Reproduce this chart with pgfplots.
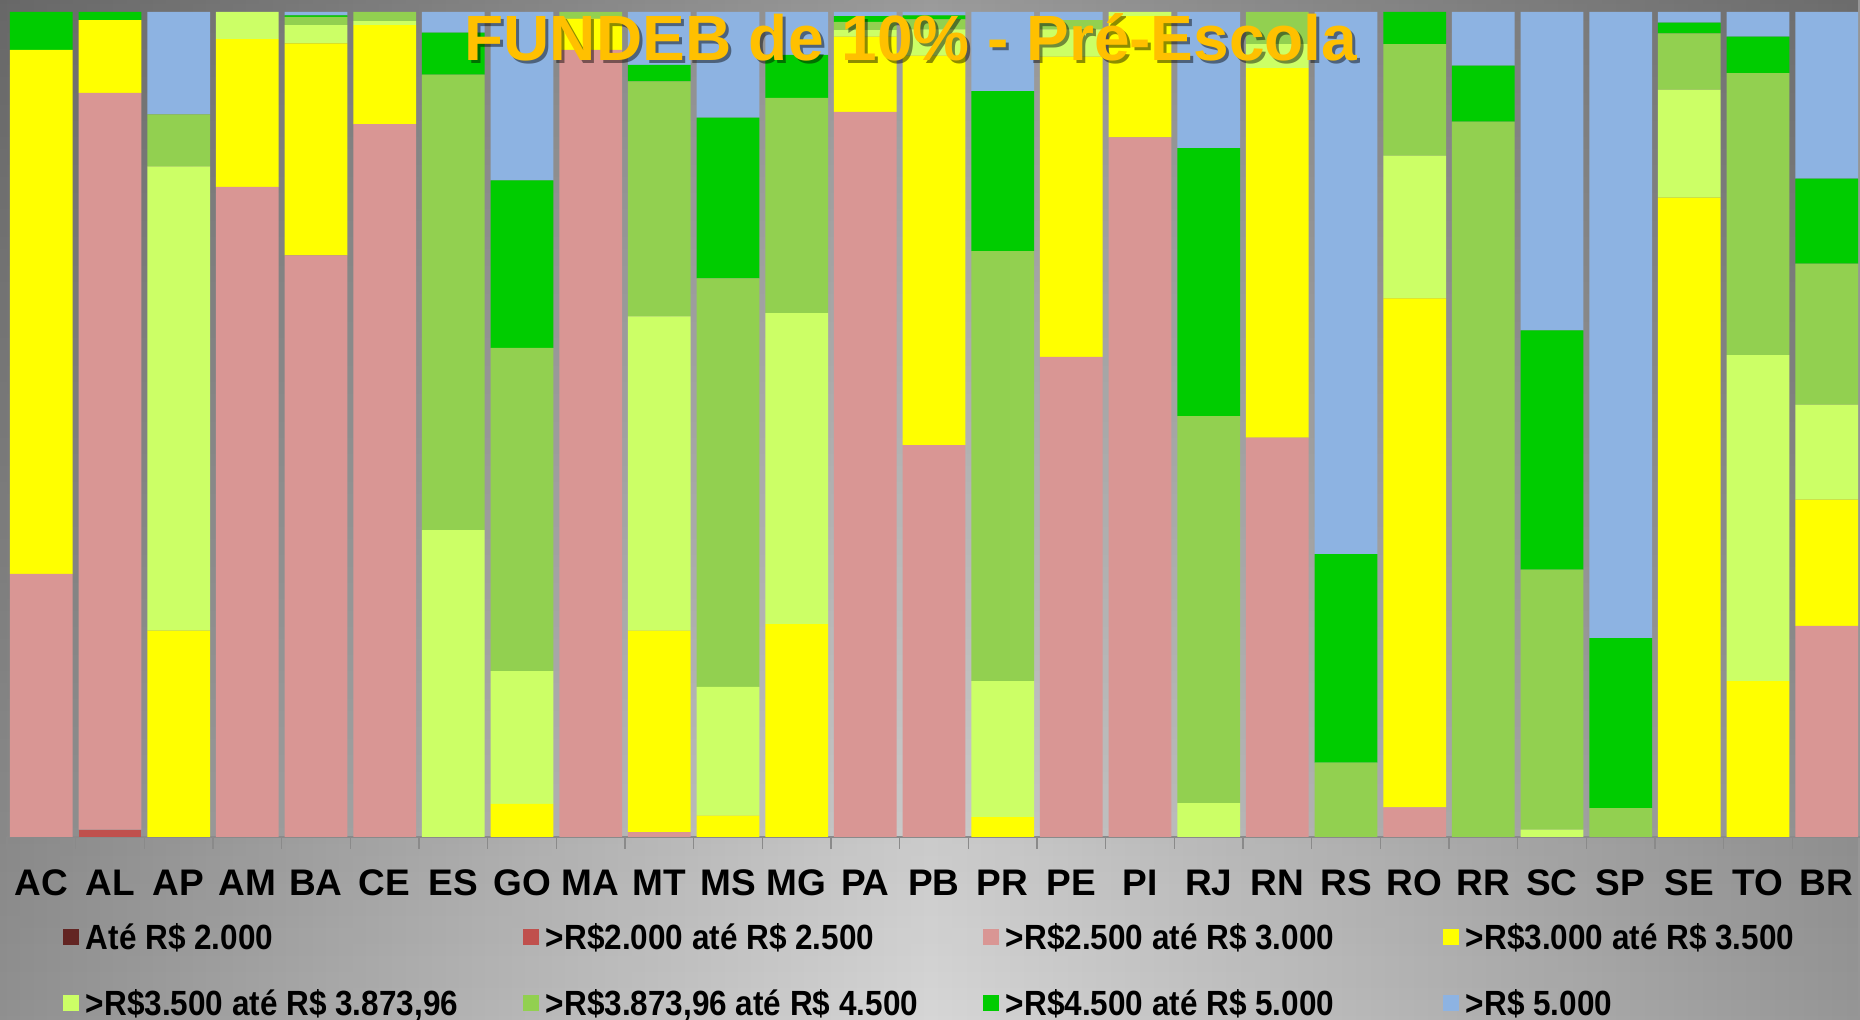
\documentclass[border=0pt]{standalone}
\usepackage{fontspec}
\setmainfont{Liberation Sans}
\newfontfamily\legfont{Liberation Sans}[FakeStretch=0.9]
\usepackage{pgfplots}
\pgfplotsset{compat=1.18}
\usepackage{pgfplotstable}
\usetikzlibrary{fadings}

\definecolor{cA}{HTML}{632523}
\definecolor{cB}{HTML}{C0504D}
\definecolor{cC}{HTML}{D99694}
\definecolor{cD}{HTML}{FFFF00}
\definecolor{cE}{HTML}{CCFF66}
\definecolor{cF}{HTML}{92D050}
\definecolor{cG}{HTML}{00CC00}
\definecolor{cH}{HTML}{8DB3E2}
\definecolor{titlecol}{HTML}{FFC000}
\definecolor{bgside}{HTML}{909090}
\definecolor{bgmid}{HTML}{D6D6D6}
\definecolor{axcol}{HTML}{8A8A8A}

% share of municipalities per value range, percent
\pgfplotstableread{
idx st  c1  c2   c3    c4    c5    c6    c7    c8
0   AC  0   0    31.9  63.5  0     0     4.6   0
1   AL  0   0.9  89.3  8.8   0     0     1.0   0
2   AP  0   0    0     25.0  56.3  6.3   0     12.4
3   AM  0   0    78.8  17.9  3.3   0     0     0
4   BA  0   0    70.5  25.7  2.2   1.0   0.2   0.4
5   CE  0   0    86.4  12.0  0.5   1.1   0     0
6   ES  0   0    0     0     37.2  55.2  5.1   2.5
7   GO  0   0    0     4.0   16.1  39.2  20.3  20.4
8   MA  0   0    95.4  3.8   0     0.8   0     0
9   MT  0   0    0.6   24.4  38.1  28.5  2.0   6.4
10  MS  0   0    0     2.6   15.6  49.5  19.5  12.8
11  MG  0   0    0     25.8  37.7  26.1  5.2   5.2
12  PA  0   0    87.9  9.1   0.8   1.0   0.7   0.5
13  PB  0   0    47.5  47.2  3.2   1.2   0.5   0.4
14  PR  0   0    0     2.4   16.5  52.1  19.4  9.6
15  PE  0   0    58.2  36.4  3.3   1.1   0     1.0
16  PI  0   0    84.8  14.7  0.5   0     0     0
17  RJ  0   0    0     0     4.1   46.9  32.5  16.5
18  RN  0   0    48.4  44.8  2.9   3.9   0     0
19  RS  0   0    0     0     0     9.0   25.3  65.7
20  RO  0   0    3.6   61.7  17.3  13.5  3.9   0
21  RR  0   0    0     0     0     86.7  6.8   6.5
22  SC  0   0    0     0     0.9   31.5  29.0  38.6
23  SP  0   0    0     0     0     3.5   20.6  75.9
24  SE  0   0    0     77.5  13.1  6.8   1.3   1.3
25  TO  0   0    0     18.9  39.5  34.2  4.4   3.0
26  BR  0   0    25.6  15.3  11.5  17.1  10.3  20.2
}\data

\newcommand{\leg}[1]{\makebox[218.5pt][l]{#1}}

\begin{document}
\begin{tikzpicture}[x=1pt,y=1pt]
\path[use as bounding box] (0,0) rectangle (930,510);
\clip (0,0) rectangle (930,510);
\shade[left color=bgside, right color=bgside!95!white, middle color=bgmid] (0,0) rectangle (930,510);
\fill[black, fill opacity=0.28, path fading=south] (0,0) rectangle (930,510);

\begin{axis}[
  at={(3.5pt,91.5pt)}, anchor=south west,
  scale only axis, width=927pt, height=412.5pt,
  ybar stacked, bar width=0.914,
  xmin=-0.5, xmax=26.5, ymin=0, ymax=100,
  axis y line=none, axis x line*=bottom,
  x axis line style={-, draw=axcol, line width=1pt},
  xtick={0,...,26},
  xticklabels={AC,AL,AP,AM,BA,CE,ES,GO,MA,MT,MS,MG,PA,PB,PR,PE,PI,RJ,RN,RS,RO,RR,SC,SP,SE,TO,BR},
  major tick length=0pt,
  minor xtick={-0.5,0.5,...,26.5},
  minor tick length=6pt, tick align=outside,
  minor tick style={draw=axcol, line width=0.8pt},
  xticklabel style={font=\bfseries\fontsize{18.5}{20}\selectfont, anchor=base, yshift=-29.4pt},
  legend columns=4,
  legend cell align=left,
  legend style={at={(axis description cs:0.0302,-0.1059)}, anchor=north west,
    draw=none, fill=none, inner sep=0pt, outer sep=0pt, row sep=17pt,
    nodes={inner sep=0pt, text height=12.6pt, text depth=3.4pt,
      font=\legfont\bfseries\fontsize{17.5}{20}\selectfont},
    /tikz/every odd column/.append style={column sep=3.5pt}},
  legend image code/.code={\fill[#1] (0pt,-2.3pt) rectangle (8pt,5.7pt);},
  every axis plot/.append style={draw=none},
]
\addplot[fill=cA] table[x=idx, y=c1] {\data};
\addlegendentry{\leg{Até R\$ 2.000}}
\addplot[fill=cB] table[x=idx, y=c2] {\data};
\addlegendentry{\leg{>R\$2.000 até R\$ 2.500}}
\addplot[fill=cC] table[x=idx, y=c3] {\data};
\addlegendentry{\leg{>R\$2.500 até R\$ 3.000}}
\addplot[fill=cD] table[x=idx, y=c4] {\data};
\addlegendentry{\leg{>R\$3.000 até R\$ 3.500}}
\addplot[fill=cE] table[x=idx, y=c5] {\data};
\addlegendentry{\leg{>R\$3.500 até R\$ 3.873,96}}
\addplot[fill=cF] table[x=idx, y=c6] {\data};
\addlegendentry{\leg{>R\$3.873,96 até R\$ 4.500}}
\addplot[fill=cG] table[x=idx, y=c7] {\data};
\addlegendentry{\leg{>R\$4.500 até R\$ 5.000}}
\addplot[fill=cH] table[x=idx, y=c8] {\data};
\addlegendentry{\leg{>R\$ 5.000}}
\end{axis}

\node[anchor=base, font=\bfseries\fontsize{32}{34}\selectfont, text=black, opacity=0.45]
  at (457,478) {FUNDEB de 10\% - Pré-Escola};
\node[anchor=base, font=\bfseries\fontsize{32}{34}\selectfont, text=titlecol]
  at (455.5,479.5) {FUNDEB de 10\% - Pré-Escola};
\end{tikzpicture}
\end{document}
